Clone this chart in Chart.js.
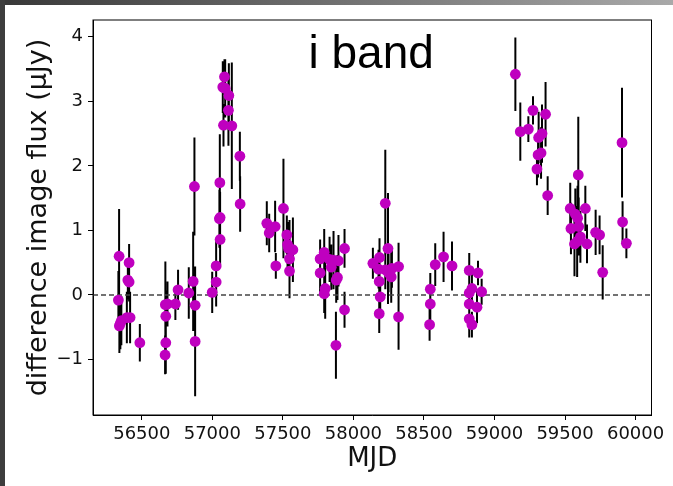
<!DOCTYPE html>
<html>
<head>
<meta charset="utf-8">
<script src="https://cdn.jsdelivr.net/npm/chart.js@4.4.1/dist/chart.umd.min.js"></script>
<style>
  html, body { margin: 0; padding: 0; background: #fff; }
  canvas { display: block; }
</style>
</head>
<body>
<canvas id="chart" width="673" height="486"></canvas>
<script>
// i band light curve: MJD, flux (uJy), 1-sigma error
const mjd = [
  56334, 56339, 56341, 56348, 56355, 56394, 56401, 56410, 56410, 56417, 56486,
  56665, 56667, 56670, 56670, 56682, 56738, 56757,
  56833, 56864, 56873, 56878, 56878,
  56999, 57027, 57027, 57050, 57053, 57055, 57055,
  57074, 57079, 57086, 57091, 57114, 57117, 57138, 57195, 57197,
  57386, 57403, 57445, 57450, 57504, 57528, 57533, 57540, 57547, 57547, 57571,
  57764, 57764, 57793, 57793, 57800, 57831, 57843, 57859, 57876, 57878, 57887, 57894, 57937, 57937,
  58138, 58178, 58183, 58183, 58185, 58190, 58226, 58226, 58245, 58249, 58268, 58273, 58320, 58320,
  58540, 58545, 58545, 58580, 58639, 58699,
  58821, 58821, 58821, 58821, 58840, 58840, 58876, 58883, 58909,
  59148, 59183, 59240, 59273, 59301, 59309, 59313, 59330, 59337, 59362, 59377,
  59537, 59542, 59567, 59573, 59586, 59589, 59594, 59597, 59609, 59644, 59656,
  59717, 59745, 59767, 59904, 59908, 59935
];
const flux = [
  -0.08, 0.60, -0.48, -0.44, -0.40, -0.35, 0.23, 0.50, 0.20, -0.35, -0.74,
  -0.93, -0.15, -0.33, -0.74, -0.14, -0.14, 0.08,
  0.03, 0.21, 1.68, -0.16, -0.72,
  0.04, 0.20, 0.45, 1.18, 1.74, 1.20, 0.86,
  3.22, 2.63, 3.38, 3.20, 2.86, 3.09, 2.62, 2.15, 1.41,
  1.11, 0.96, 1.06, 0.45, 1.34, 0.93, 0.78, 0.72, 0.56, 0.37, 0.70,
  0.56, 0.34, 0.66, 0.02, 0.10, 0.55, 0.43, 0.54, -0.78, 0.23, 0.27, 0.53, 0.72, -0.23,
  0.49, 0.40, 0.21, -0.29, 0.58, -0.03, 1.42, 0.39, 0.72, 0.34, 0.28, 0.41, 0.44, -0.34,
  -0.46, -0.14, 0.09, 0.47, 0.59, 0.45,
  0.38, 0.03, -0.14, -0.37, 0.10, -0.46, -0.19, 0.34, 0.05,
  3.42, 2.53, 2.57, 2.86, 1.95, 2.17, 2.44, 2.20, 2.50, 2.80, 1.54,
  1.34, 1.03, 0.79, 1.25, 0.83, 1.19, 1.86, 1.06, 0.90, 1.34, 0.79,
  0.97, 0.93, 0.35, 2.36, 1.13, 0.80
];
const fluxErr = [
  0.45, 0.73, 0.42, 0.40, 0.38, 0.40, 0.30, 0.29, 0.30, 0.40, 0.29,
  0.30, 0.67, 0.40, 0.48, 0.35, 0.25, 0.31,
  0.40, 0.77, 0.76, 0.60, 0.85,
  0.32, 0.38, 0.40, 0.45, 0.75, 0.40, 0.40,
  0.40, 0.33, 0.27, 0.45, 0.55, 0.50, 0.98, 0.38, 0.43,
  0.34, 0.30, 0.40, 0.20, 0.77, 0.30, 0.35, 0.30, 0.60, 0.42, 0.50,
  0.30, 0.30, 0.36, 0.30, 0.47, 0.35, 0.35, 0.45, 0.52, 0.35, 0.35, 0.40, 0.30, 0.28,
  0.24, 0.30, 0.30, 0.30, 0.30, 0.30, 0.83, 0.30, 0.86, 0.30, 0.40, 0.30, 0.37, 0.51,
  0.25, 0.30, 0.25, 0.33, 0.39, 0.38,
  0.27, 0.35, 0.35, 0.29, 0.30, 0.20, 0.25, 0.19, 0.20,
  0.57, 0.45, 0.20, 0.22, 0.25, 0.35, 0.40, 0.40, 0.45, 0.50, 0.30,
  0.40, 0.40, 0.50, 0.40, 0.55, 0.50, 0.90, 0.45, 0.40, 0.35, 0.30,
  0.35, 0.30, 0.42, 0.85, 0.32, 0.23
];

const xTicks = [56500, 57000, 57500, 58000, 58500, 59000, 59500, 60000];
const yTicks = [-1, 0, 1, 2, 3, 4];
const xRange = [56154, 60113];
const yRange = [-1.86, 4.26];

const points = mjd.map((m, i) => ({ x: m, y: flux[i], err: fluxErr[i] }));
const zeroLine = [{ x: xRange[0], y: 0 }, { x: xRange[1], y: 0 }];

// screenshot frame around the figure
const framePlugin = {
  id: "frame",
  beforeDraw(chart) {
    const ctx = chart.ctx;
    ctx.save();
    ctx.fillStyle = "#ffffff";
    ctx.fillRect(0, 0, chart.width, chart.height);
    const g = ctx.createLinearGradient(0, 0, chart.width, 0);
    g.addColorStop(0, "#383838");
    g.addColorStop(1, "#a9a9a9");
    ctx.fillStyle = g;
    ctx.fillRect(0, 0, chart.width, 5);
    ctx.fillStyle = "#3d3d3d";
    ctx.fillRect(0, 0, 5, chart.height);
    ctx.restore();
  }
};

// vertical error bars, drawn under the markers
const errorBarPlugin = {
  id: "errorBars",
  beforeDatasetsDraw(chart) {
    const { ctx, chartArea, scales: { x, y } } = chart;
    ctx.save();
    ctx.beginPath();
    ctx.rect(chartArea.left, chartArea.top, chartArea.right - chartArea.left, chartArea.bottom - chartArea.top);
    ctx.clip();
    ctx.strokeStyle = "#000000";
    ctx.lineWidth = 2;
    ctx.beginPath();
    points.forEach(p => {
      const px = x.getPixelForValue(p.x);
      ctx.moveTo(px, y.getPixelForValue(p.y + p.err));
      ctx.lineTo(px, y.getPixelForValue(p.y - p.err));
    });
    ctx.stroke();
    ctx.restore();
  }
};

// box around the axes + "i band" label
const boxPlugin = {
  id: "box",
  afterDraw(chart) {
    const { ctx, chartArea, scales: { x, y } } = chart;
    ctx.save();
    ctx.strokeStyle = "#000000";
    ctx.lineWidth = 1;
    ctx.strokeRect(chartArea.left, chartArea.top, chartArea.right - chartArea.left, chartArea.bottom - chartArea.top);
    ctx.fillStyle = "#000000";
    ctx.font = "46px 'Liberation Sans', Arial, sans-serif";
    ctx.textAlign = "center";
    ctx.textBaseline = "alphabetic";
    ctx.fillText("i band", x.getPixelForValue(58126), y.getPixelForValue(3.52));
    ctx.restore();
  }
};

const tickFont = { family: "DejaVu Sans", size: 18 };

new Chart(document.getElementById("chart").getContext("2d"), {
  type: "scatter",
  data: {
    datasets: [
      {
        type: "line",
        data: zeroLine,
        borderColor: "#444444",
        borderWidth: 1.4,
        borderDash: [5, 3],
        pointRadius: 0,
        fill: false,
        order: 2
      },
      {
        data: points,
        pointRadius: 5.4,
        pointHoverRadius: 5.4,
        backgroundColor: "#bf00bf",
        borderWidth: 0,
        order: 1
      }
    ]
  },
  options: {
    responsive: false,
    animation: false,
    layout: { padding: { left: 0, right: 21.5, top: 20, bottom: 0 } },
    plugins: {
      legend: { display: false },
      tooltip: { enabled: false }
    },
    scales: {
      x: {
        type: "linear",
        min: xRange[0],
        max: xRange[1],
        afterBuildTicks: scale => { scale.ticks = xTicks.map(v => ({ value: v })); },
        afterFit: scale => { scale.height = 71; },
        ticks: {
          font: tickFont,
          color: "#111111",
          padding: 4,
          maxRotation: 0,
          callback: v => String(v)
        },
        grid: {
          drawOnChartArea: false,
          drawTicks: true,
          tickLength: 5,
          tickColor: "#000000"
        },
        border: { display: true, color: "#000000", width: 1 },
        title: {
          display: true,
          text: "MJD",
          font: { family: "DejaVu Sans", size: 26 },
          color: "#111111",
          padding: { top: 0, bottom: 11 }
        }
      },
      y: {
        type: "linear",
        min: yRange[0],
        max: yRange[1],
        afterBuildTicks: scale => { scale.ticks = yTicks.map(v => ({ value: v })); },
        afterFit: scale => { scale.width = 93; },
        ticks: {
          font: tickFont,
          color: "#111111",
          padding: 5,
          callback: v => (v < 0 ? "\u2212" + Math.abs(v) : String(v))
        },
        grid: {
          drawOnChartArea: false,
          drawTicks: true,
          tickLength: 5,
          tickColor: "#000000"
        },
        border: { display: true, color: "#000000", width: 1 },
        title: {
          display: true,
          text: "difference image flux (\u03bcJy)",
          font: { family: "DejaVu Sans", size: 27 },
          color: "#111111",
          padding: { top: 23, bottom: 0 }
        }
      }
    }
  },
  plugins: [framePlugin, errorBarPlugin, boxPlugin]
});
</script>
</body>
</html>
